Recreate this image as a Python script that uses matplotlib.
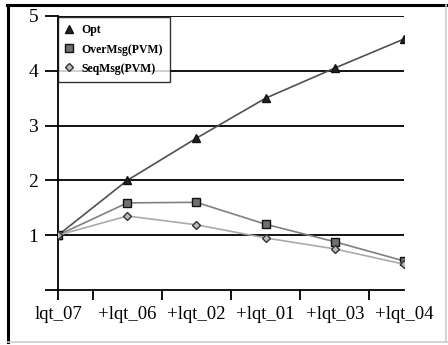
import matplotlib
matplotlib.use("Agg")
import matplotlib.pyplot as plt
from matplotlib.lines import Line2D

plt.rcParams['font.family'] = ['Liberation Serif', 'DejaVu Serif']

categories = ["lqt_07", "+lqt_06", "+lqt_02", "+lqt_01", "+lqt_03", "+lqt_04"]
opt = [1.0, 2.0, 2.77, 3.5, 4.05, 4.58]
over_msg = [1.0, 1.59, 1.6, 1.2, 0.88, 0.53]
seq_msg = [1.0, 1.35, 1.19, 0.95, 0.75, 0.47]

W, H = 448, 345
PX = 72 / 100  # points per pixel

fig = plt.figure(figsize=(W / 100, H / 100), dpi=100)
ax = fig.add_axes([58 / W, 55 / H, 346 / W, 274 / H])

x = list(range(len(categories)))
ax.plot(x, opt, color='#505050', lw=1.2, marker='^', ms=6,
        mfc='#222222', mec='#111111', label='Opt', zorder=4)
ax.plot(x, over_msg, color='#808080', lw=1.2, marker='s', ms=6,
        mfc='#707070', mec='#111111', mew=1.0, label='OverMsg(PVM)', zorder=4)
ax.plot(x, seq_msg, color='#aaaaaa', lw=1.2, marker='D', ms=4,
        mfc='#bbbbbb', mec='#333333', mew=1.0, label='SeqMsg(PVM)', zorder=4)

ax.set_xlim(0, 5)
ax.set_ylim(0, 5)

# horizontal grid lines at each integer value
for v in range(1, 6):
    ax.axhline(v, color='black', lw=1.3, zorder=1)

ax.spines['top'].set_visible(False)
ax.spines['right'].set_visible(False)
ax.spines['left'].set_linewidth(1.3)
ax.spines['bottom'].set_linewidth(1.3)

ax.set_yticks(range(0, 6))
ax.set_yticklabels(['', '1', '2', '3', '4', '5'])
ax.tick_params(axis='y', direction='out', length=13 * PX, width=1.3,
               labelsize=14, pad=7 * PX)

# separators between categories, labels at the categories
ax.xaxis.remove_overlapping_locs = False
ax.set_xticks([0, 0.5, 1.5, 2.5, 3.5, 4.5])
ax.set_xticklabels([])
ax.set_xticks(x, minor=True)
ax.set_xticklabels(categories, minor=True)
ax.tick_params(axis='x', which='major', direction='out', length=10 * PX, width=1.3)
ax.tick_params(axis='x', which='minor', length=0, labelsize=13.5, pad=16 * PX)

leg = ax.legend(loc='upper left', bbox_to_anchor=(0, 0.995), borderaxespad=0,
                frameon=True, fancybox=False, prop={'size': 8.5, 'weight': 'bold'},
                handlelength=0.7, handletextpad=0.7, labelspacing=0.6,
                borderpad=0.6)
leg.get_frame().set_edgecolor('black')
leg.get_frame().set_linewidth(1.0)
for h in leg.legend_handles:
    h.set_linestyle('none')
leg.set_zorder(5)

# outer frame around the whole picture
fig.add_artist(Line2D([8 / W, 8 / W], [3 / H, 340 / H], color='black', lw=2.2))
fig.add_artist(Line2D([7 / W, 1.0], [340 / H, 340 / H], color='black', lw=2.2))
fig.add_artist(Line2D([446 / W, 446 / W], [3 / H, 340 / H], color='#cccccc', lw=1.2))
fig.add_artist(Line2D([8 / W, 1.0], [3 / H, 3 / H], color='#cccccc', lw=1.2))

fig.savefig('out.png', dpi=100)
